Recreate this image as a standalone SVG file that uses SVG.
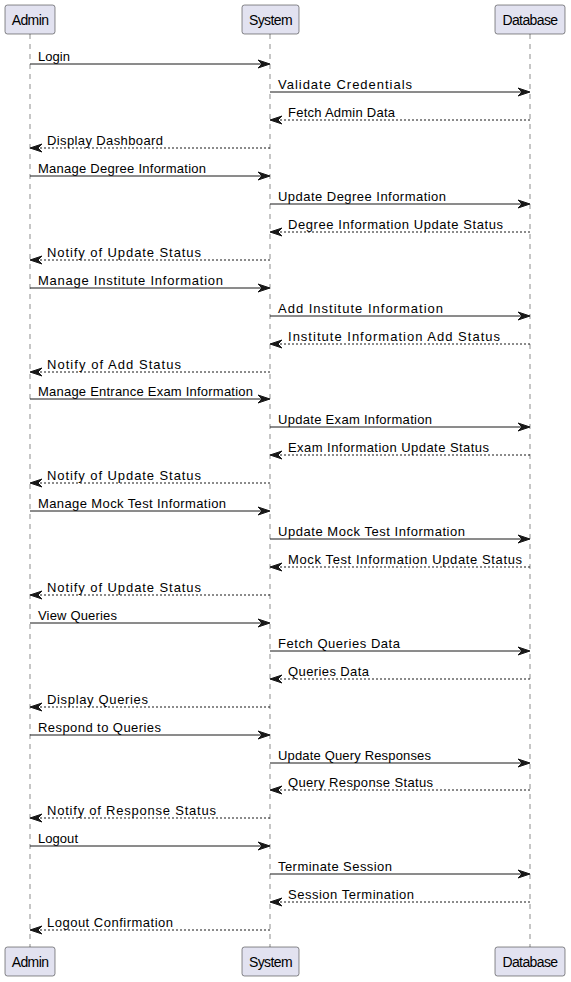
<svg xmlns="http://www.w3.org/2000/svg" width="571" height="982" viewBox="0 0 571 982">
<defs>
<style>
.part rect{fill:#E2E2F0;stroke:#181818;stroke-width:0.5}
.part text{font-family:"Liberation Sans",Arial,sans-serif;font-size:14px;fill:#000;text-anchor:middle;letter-spacing:-0.6px}
.life{stroke:#181818;stroke-width:0.5;stroke-dasharray:5,5;fill:none}
.msg line{stroke:#181818;stroke-width:1}
.msg .d{stroke-dasharray:2,2}
.msg polygon{fill:#181818;stroke:#181818;stroke-width:1}
.msg text{font-family:"Liberation Sans",Arial,sans-serif;font-size:13px;fill:#000}
</style>
</defs>
<rect width="571" height="982" fill="#FFFFFF"/>
<g id="lifelines">
<line class="life" x1="30" y1="34" x2="30" y2="947"/>
<line class="life" x1="270" y1="34" x2="270" y2="947"/>
<line class="life" x1="530" y1="34" x2="530" y2="947"/>
</g>
<g id="admin" class="part">
<rect x="5" y="5" width="50" height="29" rx="2.5"/><text x="30" y="25">Admin</text>
<rect x="5" y="947" width="50" height="29" rx="2.5"/><text x="30" y="967">Admin</text>
</g>
<g id="system" class="part">
<rect x="242" y="5" width="57" height="29" rx="2.5"/><text x="270.5" y="25">System</text>
<rect x="242" y="947" width="57" height="29" rx="2.5"/><text x="270.5" y="967">System</text>
</g>
<g id="database" class="part">
<rect x="495" y="5" width="70" height="29" rx="2.5"/><text x="530" y="25">Database</text>
<rect x="495" y="947" width="70" height="29" rx="2.5"/><text x="530" y="967">Database</text>
</g>
<g id="connectors" class="msg">
<line x1="30" y1="64" x2="268" y2="64"/><polygon points="258,60 270,64 258,68 262,64"/><text x="38" y="61" textLength="32" lengthAdjust="spacing">Login</text>
<line x1="270" y1="92" x2="528" y2="92"/><polygon points="518,88 530,92 518,96 522,92"/><text x="278" y="89" textLength="134" lengthAdjust="spacing">Validate Credentials</text>
<line class="d" x1="272" y1="120" x2="530" y2="120"/><polygon points="282,116 270,120 282,124 278,120"/><text x="288" y="117" textLength="107" lengthAdjust="spacing">Fetch Admin Data</text>
<line class="d" x1="32" y1="148" x2="270" y2="148"/><polygon points="42,144 30,148 42,152 38,148"/><text x="47" y="145" textLength="116" lengthAdjust="spacing">Display Dashboard</text>

<line x1="30" y1="176" x2="268" y2="176"/><polygon points="258,172 270,176 258,180 262,176"/><text x="38" y="173" textLength="168" lengthAdjust="spacing">Manage Degree Information</text>
<line x1="270" y1="204" x2="528" y2="204"/><polygon points="518,200 530,204 518,208 522,204"/><text x="278" y="201" textLength="168" lengthAdjust="spacing">Update Degree Information</text>
<line class="d" x1="272" y1="232" x2="530" y2="232"/><polygon points="282,228 270,232 282,236 278,232"/><text x="288" y="229" textLength="215" lengthAdjust="spacing">Degree Information Update Status</text>
<line class="d" x1="32" y1="260" x2="270" y2="260"/><polygon points="42,256 30,260 42,264 38,260"/><text x="47" y="257" textLength="154" lengthAdjust="spacing">Notify of Update Status</text>

<line x1="30" y1="288" x2="268" y2="288"/><polygon points="258,284 270,288 258,292 262,288"/><text x="38" y="285" textLength="185" lengthAdjust="spacing">Manage Institute Information</text>
<line x1="270" y1="316" x2="528" y2="316"/><polygon points="518,312 530,316 518,320 522,316"/><text x="278" y="313" textLength="165" lengthAdjust="spacing">Add Institute Information</text>
<line class="d" x1="272" y1="344" x2="530" y2="344"/><polygon points="282,340 270,344 282,348 278,344"/><text x="288" y="341" textLength="212" lengthAdjust="spacing">Institute Information Add Status</text>
<line class="d" x1="32" y1="372" x2="270" y2="372"/><polygon points="42,368 30,372 42,376 38,372"/><text x="47" y="369" textLength="134" lengthAdjust="spacing">Notify of Add Status</text>

<line x1="30" y1="399" x2="268" y2="399"/><polygon points="258,395 270,399 258,403 262,399"/><text x="38" y="396" textLength="215" lengthAdjust="spacing">Manage Entrance Exam Information</text>
<line x1="270" y1="427" x2="528" y2="427"/><polygon points="518,423 530,427 518,431 522,427"/><text x="278" y="424" textLength="154" lengthAdjust="spacing">Update Exam Information</text>
<line class="d" x1="272" y1="455" x2="530" y2="455"/><polygon points="282,451 270,455 282,459 278,455"/><text x="288" y="452" textLength="201" lengthAdjust="spacing">Exam Information Update Status</text>
<line class="d" x1="32" y1="483" x2="270" y2="483"/><polygon points="42,479 30,483 42,487 38,483"/><text x="47" y="480" textLength="154" lengthAdjust="spacing">Notify of Update Status</text>

<line x1="30" y1="511" x2="268" y2="511"/><polygon points="258,507 270,511 258,515 262,511"/><text x="38" y="508" textLength="188" lengthAdjust="spacing">Manage Mock Test Information</text>
<line x1="270" y1="539" x2="528" y2="539"/><polygon points="518,535 530,539 518,543 522,539"/><text x="278" y="536" textLength="187" lengthAdjust="spacing">Update Mock Test Information</text>
<line class="d" x1="272" y1="567" x2="530" y2="567"/><polygon points="282,563 270,567 282,571 278,567"/><text x="288" y="564" textLength="234" lengthAdjust="spacing">Mock Test Information Update Status</text>
<line class="d" x1="32" y1="595" x2="270" y2="595"/><polygon points="42,591 30,595 42,599 38,595"/><text x="47" y="592" textLength="154" lengthAdjust="spacing">Notify of Update Status</text>

<line x1="30" y1="623" x2="268" y2="623"/><polygon points="258,619 270,623 258,627 262,623"/><text x="38" y="620" textLength="79" lengthAdjust="spacing">View Queries</text>
<line x1="270" y1="651" x2="528" y2="651"/><polygon points="518,647 530,651 518,655 522,651"/><text x="278" y="648" textLength="122" lengthAdjust="spacing">Fetch Queries Data</text>
<line class="d" x1="272" y1="679" x2="530" y2="679"/><polygon points="282,675 270,679 282,683 278,679"/><text x="288" y="676" textLength="81" lengthAdjust="spacing">Queries Data</text>
<line class="d" x1="32" y1="707" x2="270" y2="707"/><polygon points="42,703 30,707 42,711 38,707"/><text x="47" y="704" textLength="101" lengthAdjust="spacing">Display Queries</text>

<line x1="30" y1="735" x2="268" y2="735"/><polygon points="258,731 270,735 258,739 262,735"/><text x="38" y="732" textLength="123" lengthAdjust="spacing">Respond to Queries</text>
<line x1="270" y1="763" x2="528" y2="763"/><polygon points="518,759 530,763 518,767 522,763"/><text x="278" y="760" textLength="153" lengthAdjust="spacing">Update Query Responses</text>
<line class="d" x1="272" y1="790" x2="530" y2="790"/><polygon points="282,786 270,790 282,794 278,790"/><text x="288" y="787" textLength="145" lengthAdjust="spacing">Query Response Status</text>
<line class="d" x1="32" y1="818" x2="270" y2="818"/><polygon points="42,814 30,818 42,822 38,818"/><text x="47" y="815" textLength="169" lengthAdjust="spacing">Notify of Response Status</text>

<line x1="30" y1="846" x2="268" y2="846"/><polygon points="258,842 270,846 258,850 262,846"/><text x="38" y="843" textLength="40" lengthAdjust="spacing">Logout</text>
<line x1="270" y1="874" x2="528" y2="874"/><polygon points="518,870 530,874 518,878 522,874"/><text x="278" y="871" textLength="114" lengthAdjust="spacing">Terminate Session</text>
<line class="d" x1="272" y1="902" x2="530" y2="902"/><polygon points="282,898 270,902 282,906 278,902"/><text x="288" y="899" textLength="126" lengthAdjust="spacing">Session Termination</text>
<line class="d" x1="32" y1="930" x2="270" y2="930"/><polygon points="42,926 30,930 42,934 38,930"/><text x="47" y="927" textLength="126" lengthAdjust="spacing">Logout Confirmation</text>
</g>
</svg>
